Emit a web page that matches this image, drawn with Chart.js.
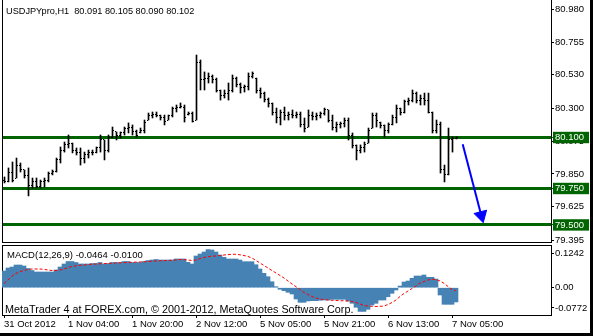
<!DOCTYPE html>
<html>
<head>
<meta charset="utf-8">
<script src="https://cdn.jsdelivr.net/npm/chart.js@4.4.1/dist/chart.umd.min.js"></script>
<style>
  body { margin: 0; background: #000; }
  #wrap { position: relative; width: 590px; height: 333px; background: #fff; overflow: hidden; font-family: "Liberation Sans", Arial, sans-serif; }
  canvas { position: absolute; left: 0; }
  #priceChart { top: 0; }
  #macdChart { top: 244px; }
  .txt { position: absolute; white-space: nowrap; color: #000; font-size: 9.5px; line-height: 11px; }
</style>
</head>
<body>
<div id="wrap">
  <canvas id="priceChart" width="593" height="250"></canvas>
  <canvas id="macdChart" width="593" height="89"></canvas>
  <div class="txt" style="left:6px; top:6px; font-size:9.2px;">USDJPYpro,H1&nbsp; 80.091 80.105 80.090 80.102</div>
  <div class="txt" style="left:7px; top:249px;">MACD(12,26,9) -0.0464 -0.0100</div>
  <div class="txt" style="left:5px; top:303px; font-size:10.8px; line-height:13px;">MetaTrader 4 at FOREX.com, © 2001-2012, MetaQuotes Software Corp.</div>
</div>
<script>
// H1 bars, 31 Oct 2012 12:00 -> 7 Nov 2012 05:00
const timeLabels = ["31 Oct 2012", "1 Nov 04:00", "1 Nov 20:00", "2 Nov 12:00", "5 Nov 05:00", "5 Nov 21:00", "6 Nov 13:00", "7 Nov 05:00"];
const timeTickBars = [0, 16, 32, 48, 64, 80, 96, 112];

const opens = [79.808, 79.801, 79.863, 79.822, 79.911, 79.877, 79.836, 79.774, 79.795, 79.767,
  79.795, 79.808, 79.850, 79.870, 79.946, 80.014, 80.049, 80.062, 80.014, 80.000,
  79.959, 79.980, 80.000, 79.994, 80.028, 80.083, 80.014, 80.103, 80.138, 80.117,
  80.131, 80.165, 80.172, 80.138, 80.131, 80.151, 80.220, 80.254, 80.261, 80.254,
  80.234, 80.220, 80.248, 80.296, 80.309, 80.309, 80.261, 80.268, 80.220, 80.618,
  80.495, 80.508, 80.522, 80.495, 80.426, 80.385, 80.405, 80.426, 80.508, 80.467,
  80.440, 80.453, 80.522, 80.508, 80.426, 80.405, 80.364, 80.330, 80.275, 80.234,
  80.275, 80.248, 80.261, 80.254, 80.261, 80.186, 80.172, 80.254, 80.241, 80.254,
  80.268, 80.289, 80.220, 80.172, 80.186, 80.193, 80.220, 80.117, 80.042, 80.014,
  80.028, 80.062, 80.165, 80.248, 80.206, 80.179, 80.151, 80.186, 80.234, 80.302,
  80.275, 80.344, 80.357, 80.405, 80.357, 80.371, 80.357, 80.275, 80.151, 80.186,
  79.877, 79.843, 80.083, 80.091];
const highs = [79.829, 79.891, 79.932, 79.959, 79.925, 79.877, 79.891, 79.822, 79.822, 79.808,
  79.822, 79.863, 79.877, 79.959, 80.035, 80.069, 80.117, 80.062, 80.028, 80.028,
  80.000, 80.014, 80.014, 80.035, 80.117, 80.083, 80.117, 80.172, 80.138, 80.138,
  80.172, 80.200, 80.186, 80.151, 80.165, 80.220, 80.268, 80.275, 80.275, 80.254,
  80.254, 80.254, 80.309, 80.323, 80.337, 80.323, 80.275, 80.275, 80.666, 80.632,
  80.550, 80.543, 80.529, 80.508, 80.426, 80.426, 80.474, 80.529, 80.515, 80.474,
  80.460, 80.543, 80.550, 80.508, 80.440, 80.412, 80.371, 80.337, 80.302, 80.289,
  80.309, 80.275, 80.289, 80.275, 80.275, 80.234, 80.289, 80.275, 80.268, 80.275,
  80.302, 80.289, 80.254, 80.206, 80.206, 80.234, 80.234, 80.131, 80.049, 80.049,
  80.069, 80.165, 80.268, 80.268, 80.206, 80.186, 80.200, 80.254, 80.323, 80.302,
  80.357, 80.371, 80.426, 80.412, 80.392, 80.405, 80.405, 80.275, 80.220, 80.206,
  79.911, 80.165, 80.103, 80.105];
const lows = [79.788, 79.795, 79.795, 79.822, 79.863, 79.822, 79.699, 79.753, 79.753, 79.753,
  79.760, 79.795, 79.843, 79.863, 79.925, 80.000, 80.028, 79.994, 79.980, 79.911,
  79.925, 79.959, 79.980, 79.994, 80.000, 79.946, 80.000, 80.097, 80.083, 80.097,
  80.117, 80.131, 80.117, 80.103, 80.131, 80.131, 80.220, 80.234, 80.241, 80.220,
  80.186, 80.220, 80.241, 80.275, 80.302, 80.206, 80.254, 80.206, 80.220, 80.426,
  80.426, 80.474, 80.474, 80.412, 80.357, 80.371, 80.357, 80.412, 80.447, 80.405,
  80.412, 80.426, 80.508, 80.405, 80.371, 80.344, 80.309, 80.254, 80.200, 80.186,
  80.220, 80.220, 80.234, 80.234, 80.172, 80.138, 80.172, 80.220, 80.220, 80.234,
  80.254, 80.206, 80.151, 80.138, 80.165, 80.172, 80.083, 80.028, 79.946, 79.994,
  80.000, 80.062, 80.165, 80.172, 80.165, 80.103, 80.131, 80.186, 80.200, 80.254,
  80.268, 80.323, 80.344, 80.337, 80.323, 80.323, 80.268, 80.131, 80.131, 79.856,
  79.795, 79.843, 80.000, 80.090];
const closes = [79.801, 79.863, 79.808, 79.911, 79.877, 79.836, 79.774, 79.795, 79.767, 79.795,
  79.808, 79.850, 79.870, 79.946, 80.014, 80.049, 80.062, 80.014, 80.000, 79.959,
  79.980, 80.000, 79.994, 80.028, 80.083, 80.014, 80.103, 80.151, 80.117, 80.131,
  80.165, 80.172, 80.138, 80.117, 80.151, 80.206, 80.254, 80.261, 80.254, 80.234,
  80.213, 80.248, 80.296, 80.309, 80.316, 80.234, 80.268, 80.213, 80.618, 80.495,
  80.508, 80.522, 80.495, 80.426, 80.385, 80.405, 80.426, 80.508, 80.467, 80.440,
  80.453, 80.522, 80.536, 80.426, 80.405, 80.364, 80.330, 80.275, 80.234, 80.275,
  80.248, 80.261, 80.254, 80.261, 80.186, 80.165, 80.254, 80.241, 80.254, 80.268,
  80.289, 80.220, 80.172, 80.186, 80.193, 80.220, 80.117, 80.042, 80.014, 80.028,
  80.049, 80.151, 80.248, 80.220, 80.179, 80.151, 80.186, 80.234, 80.302, 80.275,
  80.344, 80.357, 80.405, 80.357, 80.371, 80.357, 80.275, 80.151, 80.186, 79.877,
  79.843, 80.083, 80.090, 80.102];

const priceTicks = [80.980, 80.755, 80.530, 80.300, 80.075, 79.850, 79.625, 79.395];
const levelPrices = [80.100, 79.750, 79.500];

// hand drawn arrow: start, head
const arrowBars = [114.55, 119.2];
const arrowPrices = [80.053, 79.565];

const macdHist = [0.0544, 0.0642, 0.0674, 0.0739, 0.0739, 0.0707, 0.0625, 0.0560, 0.0511, 0.0511,
  0.0511, 0.0511, 0.0511, 0.0577, 0.0674, 0.0772, 0.0853, 0.0853, 0.0821, 0.0772,
  0.0772, 0.0772, 0.0788, 0.0788, 0.0821, 0.0772, 0.0788, 0.0821, 0.0821, 0.0821,
  0.0853, 0.0853, 0.0821, 0.0821, 0.0821, 0.0853, 0.0886, 0.0902, 0.0919, 0.0902,
  0.0902, 0.0902, 0.0902, 0.0935, 0.0935, 0.0935, 0.0827, 0.0772, 0.1033, 0.1098,
  0.1163, 0.1242, 0.1228, 0.1163, 0.1065, 0.0990, 0.0935, 0.0935, 0.0935, 0.0902,
  0.0847, 0.0847, 0.0847, 0.0749, 0.0609, 0.0469, 0.0358, 0.0195, 0.0033, -0.0052,
  -0.0098, -0.0150, -0.0205, -0.0368, -0.0476, -0.0476, -0.0433, -0.0423, -0.0423, -0.0410,
  -0.0401, -0.0401, -0.0378, -0.0378, -0.0378, -0.0378, -0.0433, -0.0508, -0.0638, -0.0772,
  -0.0772, -0.0704, -0.0564, -0.0508, -0.0401, -0.0401, -0.0293, -0.0182, -0.0075, 0.0055,
  0.0186, 0.0218, 0.0306, 0.0381, 0.0381, 0.0414, 0.0339, 0.0339, 0.0283, -0.0238,
  -0.0541, -0.0541, -0.0541, -0.0464];
const macdSignal = [0.0137, 0.0251, 0.0381, 0.0463, 0.0528, 0.0560, 0.0593, 0.0609, 0.0609, 0.0609,
  0.0599, 0.0577, 0.0560, 0.0560, 0.0577, 0.0609, 0.0658, 0.0691, 0.0713, 0.0730,
  0.0739, 0.0752, 0.0765, 0.0772, 0.0779, 0.0785, 0.0792, 0.0798, 0.0805, 0.0811,
  0.0818, 0.0824, 0.0827, 0.0834, 0.0837, 0.0844, 0.0853, 0.0863, 0.0870, 0.0876,
  0.0883, 0.0889, 0.0896, 0.0902, 0.0919, 0.0915, 0.0902, 0.0886, 0.0902, 0.0951,
  0.0984, 0.1010, 0.1026, 0.1033, 0.1049, 0.1065, 0.1078, 0.1088, 0.1088, 0.1072,
  0.1049, 0.1016, 0.0967, 0.0886, 0.0805, 0.0723, 0.0642, 0.0560, 0.0479, 0.0397,
  0.0316, 0.0218, 0.0121, 0.0033, -0.0059, -0.0156, -0.0221, -0.0287, -0.0336, -0.0368,
  -0.0384, -0.0401, -0.0410, -0.0417, -0.0423, -0.0427, -0.0433, -0.0450, -0.0482, -0.0531,
  -0.0580, -0.0596, -0.0606, -0.0612, -0.0606, -0.0596, -0.0547, -0.0482, -0.0401, -0.0287,
  -0.0189, -0.0107, -0.0026, 0.0055, 0.0153, 0.0202, 0.0251, 0.0274, 0.0267, 0.0218,
  0.0143, 0.0039, -0.0059, -0.0100];
// MT4 draws the extreme labels a little inside the pane
const macdTickValues = [0.113, 0, -0.066];
const macdTickLabels = ["0.1242", "0.00", "-0.0772"];

const FONT = { family: '"Liberation Sans", Arial, sans-serif', size: 9.5 };
const GREEN = "#006400";

// small open / close ticks as point images
function tickMark(col) {
  const c = document.createElement("canvas");
  c.width = 5;
  c.height = 1;
  const g = c.getContext("2d");
  g.fillStyle = "#000";
  g.fillRect(col, 0, 1, 1);
  return c;
}
const openTick = tickMark(1);
const closeTick = tickMark(3);

const crisp = { id: "crisp", beforeDatasetsDraw(chart) { chart.ctx.imageSmoothingEnabled = false; } };

function noPad(s) {
  s.paddingLeft = 0; s.paddingRight = 0; s.paddingTop = 0; s.paddingBottom = 0;
}
// plain axis used only for the pane frame line
function frameAxis(position) {
  return {
    type: "linear", position: position, offset: false,
    ticks: { display: false },
    grid: { display: false, drawTicks: false, offset: false },
    border: { display: true, color: "#000", width: 1 },
    afterFit(s) { if (s.isHorizontal()) s.height = 0; else s.width = 0; noPad(s); }
  };
}
const isLevel = c => c.tick && levelPrices.includes(c.tick.value);

new Chart("priceChart", {
  type: "bar",
  data: {
    datasets: [
      {
        type: "bar", xAxisID: "x", yAxisID: "y",
        data: highs.map((h, i) => ({ x: i, y: [lows[i], h] })),
        backgroundColor: "#000", borderWidth: 0, barThickness: 1
      },
      {
        type: "line", xAxisID: "x", yAxisID: "y",
        data: opens.map((o, i) => ({ x: i, y: o })),
        showLine: false, pointStyle: openTick, pointRadius: 2
      },
      {
        type: "line", xAxisID: "x", yAxisID: "y",
        data: closes.map((c, i) => ({ x: i, y: c })),
        showLine: false, pointStyle: closeTick, pointRadius: 2
      },
      {
        type: "line", xAxisID: "x", yAxisID: "y",
        data: arrowBars.map((b, i) => ({ x: b, y: arrowPrices[i] })),
        borderColor: "#0000ff", borderWidth: 2, tension: 0,
        pointRadius: [0, 7.5], pointStyle: "triangle", pointRotation: 165,
        pointBackgroundColor: "#0000ff", pointBorderColor: "#0000ff", pointBorderWidth: 1
      }
    ]
  },
  options: {
    responsive: false, animation: false, events: [],
    layout: { autoPadding: false, padding: { left: 2, top: 0, right: 0, bottom: 8 } },
    plugins: { legend: { display: false }, tooltip: { enabled: false } },
    scales: {
      x: {
        type: "linear", min: -0.625, max: 136.625, offset: false,
        ticks: { display: false },
        grid: { display: false, drawTicks: false, offset: false },
        border: { display: true, color: "#000", width: 1 },
        afterFit(s) { s.height = 0; noPad(s); }
      },
      y: {
        type: "linear", position: "right", min: 79.3828, max: 81.0437, z: 1,
        afterBuildTicks(s) { s.ticks = priceTicks.concat(levelPrices).map(v => ({ value: v })); },
        afterFit(s) { s.width = 42; noPad(s); },
        ticks: {
          autoSkip: false, padding: 1, font: FONT,
          callback: v => v.toFixed(3),
          color: c => isLevel(c) ? "#fff" : "#000",
          showLabelBackdrop: c => isLevel(c),
          backdropColor: GREEN,
          backdropPadding: { top: 0, bottom: 0, left: 2, right: 5 }
        },
        grid: {
          drawOnChartArea: true, tickLength: 3, tickWidth: 1,
          color: c => isLevel(c) ? GREEN : "rgba(0,0,0,0)",
          lineWidth: c => isLevel(c) ? 3 : 1,
          tickColor: c => isLevel(c) ? GREEN : "#000"
        },
        border: { display: true, color: "#000", width: 1 }
      },
      yl: frameAxis("left")
    }
  },
  plugins: [crisp]
});

new Chart("macdChart", {
  type: "bar",
  data: {
    datasets: [
      {
        type: "line", xAxisID: "x", yAxisID: "y",
        data: macdSignal.map((v, i) => ({ x: i, y: v })),
        borderColor: "#ff0000", borderWidth: 1, borderDash: [3, 2],
        pointRadius: 0, tension: 0
      },
      {
        type: "bar", xAxisID: "x", yAxisID: "y",
        data: macdHist.map((v, i) => ({ x: i, y: v })),
        backgroundColor: "#4682b4", borderWidth: 0, barThickness: 4
      }
    ]
  },
  options: {
    responsive: false, animation: false, events: [],
    layout: { autoPadding: false, padding: { left: 2, top: 1, right: 0, bottom: 0 } },
    plugins: { legend: { display: false }, tooltip: { enabled: false } },
    scales: {
      x: {
        type: "linear", min: -0.5, max: 136.75, offset: false,
        afterBuildTicks(s) { s.ticks = timeTickBars.map(v => ({ value: v })); },
        afterFit(s) { s.height = 18; noPad(s); },
        ticks: {
          autoSkip: false, maxRotation: 0, align: "start", padding: 1, font: FONT, color: "#000",
          callback: (v, i) => timeLabels[i]
        },
        grid: { drawOnChartArea: false, tickLength: 3, tickColor: "#000", offset: false },
        border: { display: true, color: "#000", width: 1 }
      },
      y: {
        type: "linear", position: "right", min: -0.0889, max: 0.1391,
        afterBuildTicks(s) { s.ticks = macdTickValues.map(v => ({ value: v })); },
        afterFit(s) { s.width = 42; noPad(s); },
        ticks: {
          autoSkip: false, padding: 1, font: FONT, color: "#000",
          callback: (v, i) => macdTickLabels[i]
        },
        grid: { drawOnChartArea: false, tickLength: 3, tickColor: "#000" },
        border: { display: true, color: "#000", width: 1 }
      },
      xt: frameAxis("top"),
      yl: frameAxis("left")
    }
  }
});
</script>
</body>
</html>
